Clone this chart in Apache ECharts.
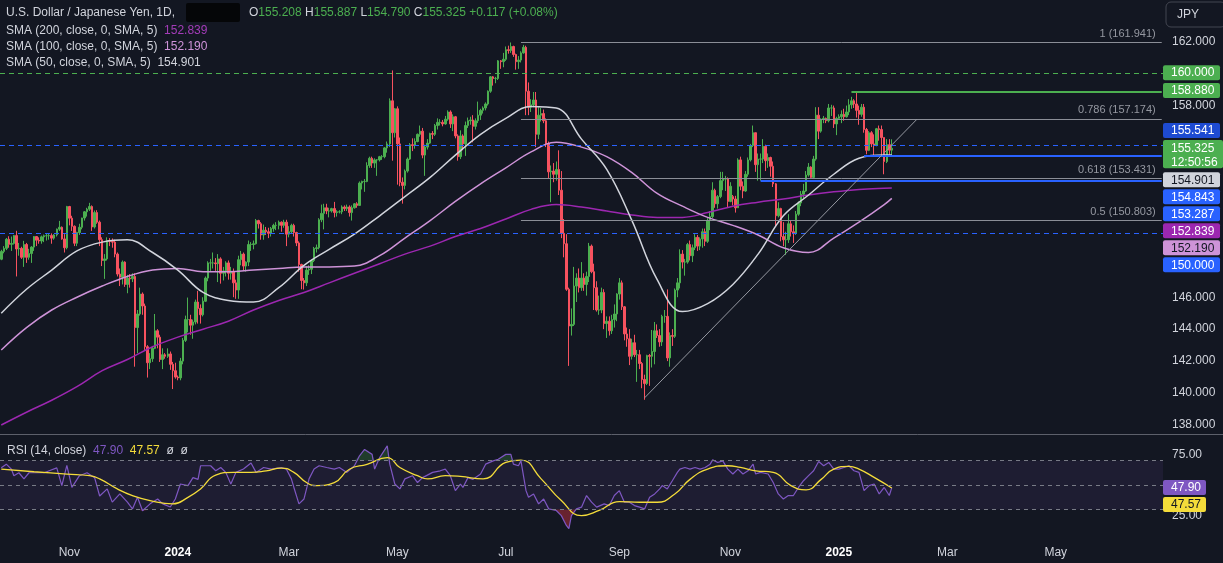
<!DOCTYPE html>
<html><head><meta charset="utf-8">
<script src="https://cdn.jsdelivr.net/npm/echarts@6/dist/echarts.min.js"></script>
<style>html,body{margin:0;padding:0;background:#131722;}#c{width:1223px;height:563px;}</style>
</head><body><div id="c"></div>
<script>
// ---------------- DATA ----------------
const firstBarDate = '2023-09-25';
const barCount = 461; // trading days incl. empty future space
const timeTicks = [['2023-11-01','Nov'],['2024-01-01','2024'],['2024-03-01','Mar'],['2024-05-01','May'],['2024-07-01','Jul'],
  ['2024-09-02','Sep'],['2024-11-01','Nov'],['2025-01-01','2025'],['2025-03-03','Mar'],['2025-05-01','May']];
const priceTicks = [138,140,142,144,146,158,162];
const rsiTicks = [25,75];

// daily [open, high, low, close]
const ohlc = [
// 2023-09
[148.38,148.97,148.32,148.87],[148.87,149.20,148.75,149.06],[149.06,149.71,148.95,149.63],[149.63,149.82,149.10,149.31],[149.31,149.80,148.90,149.37],
// 2023-10
[149.37,149.90,149.30,149.86],[149.86,150.16,147.30,149.02],[149.02,149.40,148.60,149.06],[149.06,149.16,148.40,148.50],[148.50,149.53,147.90,149.30],
[149.30,149.40,148.15,148.50],[148.50,149.03,148.35,148.74],[148.74,149.20,148.15,149.14],[149.14,149.83,148.90,149.80],[149.80,149.83,149.20,149.57],
[149.57,149.75,149.35,149.52],[149.52,149.86,149.35,149.78],[149.78,149.92,149.45,149.85],[149.85,149.99,149.55,149.85],[149.85,150.00,149.60,149.86],
[149.86,150.00,149.35,149.70],[149.70,149.95,149.60,149.90],[149.90,150.30,149.80,150.26],[150.26,150.78,150.15,150.38],[150.38,150.43,149.60,149.65],
[149.65,149.95,148.80,149.10],[149.10,151.72,149.00,151.68],
// 2023-11
[151.68,151.72,150.50,150.95],[150.95,151.10,150.15,150.44],[150.44,150.50,149.20,149.38],
[149.38,150.10,149.20,150.05],[150.05,150.60,149.90,150.38],[150.38,150.98,150.25,150.96],[150.96,151.40,150.80,151.35],[151.35,151.60,151.05,151.51],
[151.51,151.91,151.40,151.68],[151.68,151.75,150.15,150.40],[150.40,151.43,150.30,151.30],[151.30,151.45,150.60,150.70],[150.70,150.80,149.20,149.60],
[149.60,149.75,147.95,148.30],[148.30,148.70,147.15,148.40],[148.40,149.75,148.30,149.55],[149.55,149.70,149.20,149.50],[149.50,149.68,149.10,149.45],
[149.45,149.60,148.50,148.70],[148.70,148.80,147.30,147.45],[147.45,147.80,146.70,147.25],[147.25,148.30,146.80,148.20],
// 2023-12
[148.20,148.25,146.65,146.80],
[146.80,147.40,146.25,147.20],[147.20,147.45,146.60,147.15],[147.15,147.50,146.95,147.30],[147.30,147.50,141.65,144.10],[144.10,145.20,142.50,144.95],
[144.95,146.60,144.85,146.20],[146.20,146.30,144.90,145.45],[145.45,145.60,142.70,142.90],[142.90,143.00,140.97,141.90],[141.90,142.50,141.50,142.15],
[142.15,142.95,141.95,142.80],[142.80,144.95,142.75,143.90],[143.90,144.00,142.80,143.50],[143.50,143.65,141.95,142.10],[142.10,142.80,141.50,142.40],
[142.40,142.50,142.15,142.30],[142.30,142.80,142.20,142.45],[142.45,142.60,141.45,141.80],[141.80,141.95,140.25,141.40],[141.40,141.90,140.90,141.00],
// 2024-01
[141.00,141.10,140.80,140.95],[140.95,142.20,140.80,142.00],[142.00,143.45,141.80,143.30],[143.30,144.85,143.20,144.60],[144.60,145.98,143.80,144.60],
[144.60,144.90,143.65,144.25],[144.25,144.60,143.40,144.45],[144.45,145.85,144.30,145.70],[145.70,146.40,144.35,145.30],[145.30,145.55,144.35,144.90],
[144.90,146.00,144.80,145.75],[145.75,147.30,145.70,147.20],[147.20,148.25,147.00,148.15],[148.15,148.40,147.65,148.15],[148.15,148.80,147.80,148.15],
[148.15,148.45,147.65,148.10],[148.10,148.70,146.95,148.40],[148.40,148.50,146.85,147.50],[147.50,147.90,147.05,147.65],[147.65,148.25,147.30,148.15],
[148.15,148.30,147.10,147.50],[147.50,147.90,147.10,147.60],[147.60,147.80,146.00,146.90],
// 2024-02
[146.90,147.10,145.90,146.45],[146.45,148.60,145.90,148.35],
[148.35,148.90,148.00,148.70],[148.70,148.80,147.65,147.95],[147.95,148.25,147.60,148.20],[148.20,149.55,147.95,149.30],[149.30,149.45,148.90,149.30],
[149.30,149.55,149.00,149.35],[149.35,150.90,149.30,150.80],[150.80,150.85,150.30,150.60],[150.60,150.70,149.60,149.90],[149.90,150.55,149.60,150.20],
[150.20,150.40,149.90,150.10],[150.10,150.35,149.70,150.00],[150.00,150.40,149.80,150.30],[150.30,150.60,150.10,150.50],[150.50,150.70,150.20,150.50],
[150.50,150.80,150.25,150.70],[150.70,150.75,150.10,150.50],[150.50,150.85,150.35,150.70],[150.70,150.85,149.20,149.95],
// 2024-03
[149.95,150.45,149.75,150.10],
[150.10,150.60,150.00,150.50],[150.50,150.60,149.80,150.05],[150.05,150.10,149.20,149.40],[149.40,149.50,147.60,148.05],[148.05,148.10,146.50,147.05],
[147.05,147.20,146.48,146.90],[146.90,147.95,146.70,147.70],[147.70,148.00,147.40,147.75],[147.75,148.35,147.45,148.30],[148.30,149.15,148.20,149.05],
[149.05,149.30,148.80,149.10],[149.10,150.95,149.00,150.85],[150.85,151.80,150.70,151.25],[151.25,151.85,150.25,151.60],[151.60,151.85,151.20,151.40],
[151.40,151.60,151.00,151.40],[151.40,151.60,151.30,151.55],[151.55,151.97,151.00,151.30],[151.30,151.45,151.05,151.35],[151.35,151.45,151.25,151.35],
// 2024-04
[151.35,151.75,151.20,151.65],[151.65,151.75,151.40,151.55],[151.55,151.80,151.40,151.65],[151.65,151.75,151.05,151.30],[151.30,151.75,150.80,151.60],
[151.60,151.90,151.55,151.85],[151.85,151.95,151.60,151.75],[151.75,153.25,151.75,153.15],[153.15,153.30,152.75,153.25],[153.25,153.40,152.60,153.25],
[153.25,154.45,153.20,154.25],[154.25,154.80,154.10,154.70],[154.70,154.80,154.10,154.40],[154.40,154.70,154.10,154.60],[154.60,154.65,153.60,154.60],
[154.60,154.85,154.50,154.80],[154.80,154.90,154.60,154.80],[154.80,155.40,154.70,155.35],[155.35,155.75,155.05,155.60],[155.60,158.45,155.40,158.30],
[158.30,160.20,154.55,156.30],[156.30,157.85,156.00,157.80],
// 2024-05
[157.80,157.95,153.05,155.60],[155.60,156.00,152.95,153.20],[153.20,153.50,151.86,153.00],
[153.00,154.00,152.75,153.90],[153.90,154.75,153.80,154.65],[154.65,155.65,154.60,155.55],[155.55,155.95,155.15,155.50],[155.50,155.95,155.30,155.75],
[155.75,156.25,155.70,156.20],[156.20,156.75,156.05,156.40],[156.40,156.60,154.70,154.90],[154.90,155.55,153.60,155.40],[155.40,155.90,155.25,155.65],
[155.65,156.30,155.60,156.25],[156.25,156.40,155.90,156.20],[156.20,156.85,156.10,156.75],[156.75,157.20,156.50,156.95],[156.95,157.15,156.75,156.95],
[156.95,157.10,156.70,156.85],[156.85,157.35,156.80,157.15],[157.15,157.70,157.05,157.60],[157.60,157.70,156.60,156.85],[156.85,157.45,156.40,157.30],
// 2024-06
[157.30,157.35,155.95,156.10],[156.10,156.20,154.55,154.80],[154.80,156.45,154.65,156.10],[156.10,156.20,155.20,155.60],[155.60,157.00,154.85,156.75],
[156.75,157.25,156.60,157.05],[157.05,157.30,156.80,157.10],[157.10,157.40,155.70,156.70],[156.70,157.20,156.50,157.05],[157.05,158.25,156.90,157.40],
[157.40,157.80,157.10,157.70],[157.70,157.95,157.50,157.85],[157.85,158.20,157.70,158.10],[158.10,158.95,158.00,158.90],[158.90,159.85,158.80,159.80],
[159.80,159.85,159.25,159.70],[159.70,159.80,159.40,159.70],[159.70,160.85,159.60,160.80],[160.80,160.85,160.30,160.75],[160.75,161.30,160.40,160.90],
// 2024-07
[160.90,161.70,160.80,161.50],[161.50,161.75,161.25,161.45],[161.45,161.95,161.30,161.70],[161.70,161.75,161.05,161.20],[161.20,161.25,160.25,160.75],
[160.75,161.10,160.30,160.85],[160.85,161.40,160.70,161.30],[161.30,161.80,161.25,161.65],[161.65,161.75,157.40,158.90],[158.90,159.45,157.40,157.90],
[157.90,158.40,157.60,158.05],[158.05,158.85,157.90,158.35],[158.35,158.85,155.40,156.20],[156.20,157.90,155.90,157.40],[157.40,157.85,157.00,157.50],
[157.50,157.75,156.90,157.05],[157.05,157.20,155.40,155.60],[155.60,155.75,153.45,153.85],[153.85,154.25,151.95,153.90],[153.90,154.40,153.20,153.70],
[153.70,154.50,153.30,154.00],[154.00,155.20,152.40,152.70],[152.70,153.90,149.70,150.00],
// 2024-08
[150.00,150.90,148.50,149.35],[149.35,149.95,146.40,146.50],
[146.50,146.60,141.70,144.20],[144.20,145.30,143.60,144.30],[144.30,147.90,144.20,146.70],[146.70,147.50,145.70,147.20],[147.20,147.80,146.30,146.60],
[146.60,148.20,146.40,147.20],[147.20,147.50,146.40,146.80],[146.80,147.60,146.10,147.30],[147.30,149.40,146.95,149.20],[149.20,149.30,147.50,147.60],
[147.60,148.10,145.20,146.60],[146.60,147.00,145.10,145.20],[145.20,146.10,144.90,145.20],[145.20,146.60,145.00,146.30],[146.30,146.50,144.00,144.35],
[144.35,144.80,143.45,144.50],[144.50,144.80,143.60,143.90],[143.90,144.90,143.70,144.60],[144.60,145.55,144.10,144.95],[144.95,146.25,144.50,146.20],
// 2024-09
[146.20,147.20,145.85,146.90],[146.90,147.05,145.20,145.40],[145.40,145.45,143.30,143.70],[143.70,144.10,142.90,143.40],[143.40,144.00,141.75,142.30],
[142.30,143.40,142.10,143.15],[143.15,143.65,142.25,142.40],[142.40,142.70,140.70,142.40],[142.40,142.70,141.50,141.85],[141.85,141.95,140.30,140.85],
[140.85,141.15,139.58,140.60],[140.60,142.40,140.50,142.35],[142.35,142.45,140.45,142.30],[142.30,143.95,141.60,142.60],[142.60,144.45,141.80,143.90],
[143.90,144.30,143.45,143.60],[143.60,144.00,142.90,143.20],[143.20,144.90,142.95,144.80],[144.80,145.20,144.40,144.80],[144.80,146.49,142.00,142.20],
[142.20,143.80,141.65,143.60],
// 2024-10
[143.60,144.00,142.95,143.55],[143.55,146.55,143.45,146.45],[146.45,147.20,146.00,146.90],[146.90,149.00,146.55,148.70],
[148.70,148.95,147.80,148.20],[148.20,148.40,147.35,148.20],[148.20,149.40,148.10,149.30],[149.30,149.55,148.30,148.60],[148.60,149.30,148.20,149.10],
[149.10,149.95,148.95,149.75],[149.75,149.90,148.90,149.20],[149.20,149.75,148.95,149.65],[149.65,150.30,149.10,150.10],[150.10,150.30,149.20,149.50],
[149.50,150.95,149.40,150.80],[150.80,151.40,150.20,151.05],[151.05,153.20,150.95,152.70],[152.70,152.80,151.60,151.85],[151.85,152.40,151.55,152.30],
[152.30,153.85,152.20,153.30],[153.30,153.85,152.70,153.40],[153.40,153.60,152.65,153.40],[153.40,153.50,151.65,152.00],
// 2024-11
[152.00,153.20,151.95,152.95],
[152.30,152.40,151.75,152.15],[152.15,152.35,151.30,151.60],[151.60,154.70,151.60,154.60],[154.60,154.80,152.70,152.95],[152.95,153.25,152.20,152.65],
[152.65,153.90,152.60,153.70],[153.70,154.75,153.55,154.60],[154.60,155.60,154.50,155.50],[155.50,156.75,155.40,156.30],[156.30,156.30,153.85,154.30],
[154.30,155.00,153.30,154.65],[154.65,155.00,153.30,154.65],[154.65,155.90,154.40,155.45],[155.45,155.55,153.90,154.55],[154.55,155.00,154.10,154.75],
[154.75,154.80,153.55,154.20],[154.20,154.50,152.90,153.10],[153.10,153.15,150.45,151.10],[151.10,151.95,151.00,151.55],[151.55,151.60,149.50,149.80],
// 2024-12
[149.80,150.70,149.20,149.60],[149.60,150.10,148.65,149.60],[149.60,151.20,149.40,150.60],[150.60,150.80,149.80,150.10],[150.10,150.50,149.40,150.00],
[150.00,151.40,149.90,151.20],[151.20,152.00,151.10,151.90],[151.90,152.65,151.70,152.45],[152.45,153.10,152.20,152.65],[152.65,153.90,152.60,153.65],
[153.65,154.40,153.55,154.15],[154.15,154.20,153.40,153.50],[153.50,154.85,153.40,154.65],[154.65,157.90,154.55,157.40],[157.40,157.90,155.90,156.40],
[156.40,157.20,156.30,157.15],[157.15,157.35,156.90,157.20],[157.20,157.25,156.90,157.05],[157.05,158.10,156.95,157.85],[157.85,158.05,157.35,157.85],
[157.85,158.00,156.60,156.85],[156.85,157.30,156.15,157.20],
// 2025-01
[157.20,157.45,157.10,157.30],[157.30,157.70,156.90,157.45],[157.45,157.80,157.05,157.30],
[157.30,158.00,157.25,157.60],[157.60,158.40,157.40,158.05],[158.05,158.55,157.80,158.30],[158.30,158.40,157.85,158.10],[158.10,158.88,157.25,157.70],
[157.70,158.00,156.80,157.45],[157.45,158.10,157.30,157.90],[157.90,158.10,156.30,156.50],[156.50,156.60,154.95,155.20],[155.20,156.40,155.15,156.30],
[156.30,156.40,155.40,155.60],[155.60,156.20,154.85,155.50],[155.50,156.60,155.45,156.55],[156.55,156.75,155.80,156.50],[156.50,156.75,154.80,156.00],
[156.00,156.00,153.70,154.50],[154.50,155.90,154.40,155.55],[155.55,155.90,154.90,155.208],[155.208,155.887,154.790,155.325]
];

const maBars  = [0,10,20,30,40,50,60,70,80,90,100,110,120,130,140,150,160,170,180,190,200,210,220,230,240,250,260,270,280,290,300,310,320,330,340,350,353];
const sma50  = [145.0,146.5,147.7,148.9,149.45,149.6,148.8,147.7,146.3,145.8,145.7,146.6,148.0,149.0,149.95,151.1,152.3,153.5,154.9,156.2,157.2,157.95,157.85,155.9,154.0,150.8,147.1,145.1,145.6,146.8,148.7,151.1,152.4,153.7,154.7,154.9,154.901];
const sma100 = [142.7,144.1,145.2,146.0,146.7,147.3,147.7,147.8,147.6,147.6,147.7,147.8,147.9,147.9,147.95,148.6,149.7,150.8,152.0,153.1,154.1,155.1,155.7,155.4,154.8,153.8,152.5,151.7,151.0,150.5,149.9,149.1,148.8,149.7,150.7,151.8,152.19];
const sma200 = [138.0,138.8,139.55,140.4,141.4,142.1,142.9,143.5,144.0,144.5,145.2,145.8,146.3,146.9,147.5,148.1,148.7,149.2,149.8,150.3,150.9,151.5,151.8,151.65,151.4,151.15,151.0,151.0,151.3,151.7,151.95,152.15,152.4,152.6,152.75,152.83,152.839];

// RSI(14) and its MA, read as [bar, value]
const rsi = [[0,64],[2,67],[4,63],[5,57.6],[7,60],[9,55],[11,60],[13,60],[17,60],[19,61.6],[22,64],[24,49.5],[26,66],[28,48],[31,57.6],[34,60],[37,56],[39,41],[42,46.8],[44,36],[47,42.7],[50,36],[52,30.5],[54,40],[56,29],[59,34.6],[62,38.6],[64,34.6],[67,32],[69,38.6],[71,50.8],[74,49.5],[76,56],[78,54.6],[79,65.7],[83,65.7],[85,61.6],[87,64.3],[89,60.3],[91,50.8],[93,60.3],[96,63],[99,68],[101,60.3],[104,64.3],[107,63],[111,64.3],[113,63],[115,55],[116,48],[118,34.6],[120,38.6],[122,55],[124,63],[126,65.7],[129,64.3],[132,63],[134,64.3],[137,60.3],[140,65.7],[142,73.8],[144,79],[147,75],[148,63],[150,72.4],[153,81.9],[154,67],[156,50.8],[158,46.8],[160,55],[163,57.6],[165,52],[167,56],[171,60.3],
[174,61.6],[176,62.9],[178,57.6],[180,45.4],[182,50.8],[183,48],[185,56],[187,54.6],[190,58.9],[192,67],[195,69.7],[197,71],[200,75],[202,75],[203,67],[205,65.7],[206,69.7],[208,45.4],[209,40],[211,42.7],[213,34.6],[215,38.6],[217,30.5],[220,29.2],[222,25],[224,17],[225,14.3],[226,25],[228,30.5],[230,31.9],[232,41.4],[234,36],[236,31.9],[239,34.6],[241,33.2],[243,41.4],[245,45.4],[247,36],[249,36],[251,33.2],[253,31.9],[255,30.5],[257,40],[259,42.7],[261,46.8],[262,49.5],[264,46.8],[266,53.5],[268,60.3],[269,63],[271,64.3],[273,63],[275,64.3],[277,63],[279,64.3],[281,67],[282,70.5],[284,68.4],[286,69.7],[288,63],[290,59],[292,63],[294,59],[296,61.6],[298,67],[299,59],[301,60.3],[304,59],[306,52],[308,42.7],[310,38.6],[312,41.4],[314,41.4],[316,48],[318,53.5],[320,57.6],[322,61.6],[324,69.2],[326,65.7],[328,68.4],[330,63],[332,63],[334,64.3],[336,65.7],[338,61.6],[340,60.3],[342,45.4],[344,49.5],[346,50.8],[348,42.7],[350,48],[352,41.4],[353,47.9]];
const rsiMa = [[0,63],[13,60.8],[26,58.9],[35,57.6],[39,55],[46,46.8],[52,41.4],[59,37.3],[68,34.6],[74,39.9],[79,46.8],[85,58.1],[92,60.3],[99,60.3],[105,61.6],[111,63.8],[116,60.3],[121,52],[125,49.5],[132,52],[138,62.9],[145,66.9],[153,72.4],[158,64.3],[165,57.6],[169,55],[176,57.6],[182,57],[191,55],[200,68.4],[206,70.3],[214,55],[222,37.3],[230,25],[237,29.2],[245,36.5],[253,35.9],[260,35.9],[267,42.7],[273,54.6],[280,63],[288,65.7],[293,64.3],[299,61.6],[306,60.3],[313,49.5],[319,46],[325,54.6],[330,63],[336,65.2],[340,63],[346,56.2],[353,47.57]];

// drawings
const fibLevels = [['1',161.941],['0.786',157.174],['0.618',153.431],['0.5',150.803]];
const fibFromBar = 206;
const dashedLevels = [160.000, 155.541, 150.000];
const rayLevels = [[158.880, 337], [154.843, 342], [153.287, 301]]; // [price, start bar]
const trendPts = [[255, 139.70], [363, 157.15]];
const lastPrice = 155.325, countdown = '12:50:56';
const tagValues = [160.000, 158.880, 155.541, 154.901, 154.843, 153.287, 152.839, 152.190, 150.000];
const rsiLast = 47.90, rsiMaLast = 47.57;

// ---------------- STYLE ----------------
const tagColors = [['#4caf50','#ffffff'],['#4caf50','#ffffff'],['#1e4bd2','#ffffff'],['#d1d4dc','#131722'],['#2962ff','#ffffff'],
  ['#2962ff','#ffffff'],['#9c27b0','#ffffff'],['#ce93d8','#131722'],['#2962ff','#ffffff']];
const FONT = 'Liberation Sans, Arial, sans-serif';
const UP = '#4caf50', DOWN = '#f7525f', TXT = '#d1d4dc';

// ---------------- BUILD ----------------
const cats = [];
(function(){ const p = firstBarDate.split('-').map(Number); const d = new Date(Date.UTC(p[0], p[1]-1, p[2]));
  while (cats.length < barCount) { const w = d.getUTCDay(); if (w !== 0 && w !== 6) cats.push(d.toISOString().slice(0,10)); d.setUTCDate(d.getUTCDate()+1); } })();
const tickMap = {}; timeTicks.forEach(t => tickMap[t[0]] = t[1]);
const lastBar = ohlc.length - 1;
const maSeries = arr => maBars.map((b,i) => [b, arr[i]]);

const markLines = [];
dashedLevels.forEach((v,i) => markLines.push({yAxis: v, lineStyle: {color: i === 0 ? '#4caf50' : '#2962ff', type: [5,4], width: 1}, label: {show: false}}));
fibLevels.forEach(f => markLines.push([
  {coord: [fibFromBar, f[1]], lineStyle: {color: '#8b8e97', type: 'solid', width: 1},
   label: {show: true, position: 'insideEndTop', formatter: f[0] + ' (' + f[1].toFixed(3) + ')', color: '#9598a1', fontSize: 11, fontFamily: FONT, distance: [6, 3]}},
  {coord: [barCount - 1, f[1]]}]));
rayLevels.forEach((r,i) => markLines.push([
  {coord: [r[1], r[0]], lineStyle: {color: i === 0 ? '#4caf50' : '#2962ff', type: 'solid', width: 2}, label: {show: false}},
  {coord: [barCount - 1, r[0]]}]));
markLines.push([{coord: trendPts[0], lineStyle: {color: '#9598a1', type: 'solid', width: 1}, label: {show: false}}, {coord: trendPts[1]}]);

const chart = echarts.init(document.getElementById('c'), null, {renderer: 'canvas'});
const option = {
  backgroundColor: '#131722',
  animation: false,
  textStyle: {fontFamily: FONT},
  grid: [{left: 0, right: 60, top: 0, height: 434}, {left: 0, right: 60, top: 436, height: 101}],
  xAxis: [
    {type: 'category', gridIndex: 0, data: cats, boundaryGap: true, axisLine: {show: false}, axisTick: {show: false}, axisLabel: {show: false}, splitLine: {show: false}},
    {type: 'category', gridIndex: 1, data: cats, boundaryGap: true, axisLine: {show: false}, axisTick: {show: false}, splitLine: {show: false},
     axisLabel: {interval: (i, v) => tickMap[v] !== undefined, formatter: v => { const t = tickMap[v] || ''; return /^\d{4}$/.test(t) ? '{y|' + t + '}' : t; },
       color: TXT, fontSize: 12, margin: 10, fontFamily: FONT, rich: {y: {color: '#ffffff', fontWeight: 'bold', fontSize: 12, fontFamily: FONT}}}}
  ],
  yAxis: [
    {type: 'value', gridIndex: 0, position: 'right', min: 137.436, max: 164.611, scale: true, axisLine: {show: false}, axisTick: {show: false}, splitLine: {show: false},
     axisLabel: {customValues: priceTicks, formatter: v => v.toFixed(3), color: TXT, fontSize: 12, margin: 9, fontFamily: FONT}},
    {type: 'value', gridIndex: 1, position: 'right', min: 7.55, max: 90.0, axisLine: {show: false}, axisTick: {show: false}, splitLine: {show: false},
     axisLabel: {customValues: rsiTicks, formatter: v => v.toFixed(2), color: TXT, fontSize: 12, margin: 9, fontFamily: FONT}}
  ],
  series: [
    {type: 'candlestick', xAxisIndex: 0, yAxisIndex: 0, barWidth: 2,
     data: ohlc.map(r => [r[0], r[3], r[2], r[1]]),
     itemStyle: {color: UP, color0: DOWN, borderColor: UP, borderColor0: DOWN, borderWidth: 1},
     markLine: {silent: true, symbol: ['none','none'], animation: false, data: markLines}},
    {type: 'line', name: 'SMA200', xAxisIndex: 0, yAxisIndex: 0, data: maSeries(sma200), smooth: 0.4, showSymbol: false, lineStyle: {color: '#9c27b0', width: 1.5}},
    {type: 'line', name: 'SMA100', xAxisIndex: 0, yAxisIndex: 0, data: maSeries(sma100), smooth: 0.4, showSymbol: false, lineStyle: {color: '#ce93d8', width: 1.5}},
    {type: 'line', name: 'SMA50', xAxisIndex: 0, yAxisIndex: 0, data: maSeries(sma50), smooth: 0.4, showSymbol: false, lineStyle: {color: '#d1d4dc', width: 1.5}},
    {type: 'line', name: 'ob', xAxisIndex: 1, yAxisIndex: 1, data: rsi.map(p => [p[0], Math.max(p[1], 70)]), showSymbol: false, lineStyle: {width: 0},
     areaStyle: {origin: 70, color: 'rgba(76,175,80,0.35)'}},
    {type: 'line', name: 'os', xAxisIndex: 1, yAxisIndex: 1, data: rsi.map(p => [p[0], Math.min(p[1], 30)]), showSymbol: false, lineStyle: {width: 0},
     areaStyle: {origin: 30, color: 'rgba(242,54,69,0.55)'}},
    {type: 'line', name: 'RSI', xAxisIndex: 1, yAxisIndex: 1, data: rsi, showSymbol: false, lineStyle: {color: '#7e57c2', width: 1.2},
     markArea: {silent: true, itemStyle: {color: 'rgba(126,87,194,0.10)'}, data: [[{yAxis: 70}, {yAxis: 30}]]},
     markLine: {silent: true, symbol: ['none','none'], label: {show: false}, lineStyle: {color: '#787b86', type: [4,4], width: 1}, data: [{yAxis: 70}, {yAxis: 50}, {yAxis: 30}]}},
    {type: 'line', name: 'RSI MA', xAxisIndex: 1, yAxisIndex: 1, data: rsiMa, smooth: 0.5, showSymbol: false, lineStyle: {color: '#f4dc3a', width: 1.3}}
  ]
};
chart.setOption(option);

// ---------- overlay: legends, price tags ----------
const g = [];
const txt = (x, y, text, rich, extra) => g.push(Object.assign({type: 'text', x: x, y: y, silent: true,
  style: {text: text, rich: rich, fill: TXT, font: '12px ' + FONT, verticalAlign: 'middle', align: 'left'}}, extra || {}));
const r12 = c => ({fill: c, font: '12px ' + FONT});
txt(6, 13, 'U.S. Dollar / Japanese Yen, 1D,', null);
g.push({type: 'rect', shape: {x: 186, y: 3, width: 54, height: 19, r: 2}, style: {fill: '#050608'}, silent: true});
const o = ohlc[lastBar];
const chg = o[3] - ohlc[lastBar - 1][3];
txt(249, 13, '{w|O}{v|' + o[0].toFixed(3) + '} {w|H}{v|' + o[1].toFixed(3) + '} {w|L}{v|' + o[2].toFixed(3) + '} {w|C}{v|' + o[3].toFixed(3) + '} {v|+' + chg.toFixed(3) + ' (+' + (chg / ohlc[lastBar-1][3] * 100).toFixed(2) + '%)}',
  {w: r12(TXT), v: r12(UP)});
txt(6, 30.7, 'SMA (200, close, 0, SMA, 5)  {a|' + sma200[sma200.length-1].toFixed(3) + '}', {a: r12('#a33cb8')});
txt(6, 46.5, 'SMA (100, close, 0, SMA, 5)  {a|' + sma100[sma100.length-1].toFixed(3) + '}', {a: r12('#ce93d8')});
txt(6, 62.5, 'SMA (50, close, 0, SMA, 5)  {a|' + sma50[sma50.length-1].toFixed(3) + '}', {a: r12(TXT)});
txt(7, 450.5, 'RSI (14, close)  {a|' + rsiLast.toFixed(2) + '}  {b|' + rsiMaLast.toFixed(2) + '}  ø  ø', {a: r12('#7e57c2'), b: r12('#f4dc3a')});
// JPY button
g.push({type: 'rect', shape: {x: 1166, y: 2, width: 60, height: 25, r: 5}, style: {fill: '#131722', stroke: '#434651', lineWidth: 1}, silent: true});
txt(1177, 14.5, 'JPY', null);
// pane separator
g.push({type: 'line', shape: {x1: 0, y1: 434.5, x2: 1223, y2: 434.5}, style: {stroke: '#5d606b', lineWidth: 1}, silent: true});

const py = v => chart.convertToPixel({yAxisIndex: 0}, v);
const ry = v => chart.convertToPixel({yAxisIndex: 1}, v);
const H = 15, GAP = 2;
const tag = (cy, label, bg, fg, w) => {
  g.push({type: 'rect', shape: {x: 1163, y: cy - H/2, width: w, height: H, r: 2}, style: {fill: bg}, silent: true, z: 10});
  g.push({type: 'text', x: 1171, y: cy + 0.5, silent: true, z: 11, style: {text: label, fill: fg, font: '12px ' + FONT, verticalAlign: 'middle', align: 'left'}});
};
// current price block
const ly = py(lastPrice);
const curTop = ly - 8.3, curBot = ly + 20;
g.push({type: 'rect', shape: {x: 1163, y: curTop, width: 60, height: curBot - curTop, r: 2}, style: {fill: UP}, silent: true, z: 10});
g.push({type: 'text', x: 1171, y: ly, silent: true, z: 11, style: {text: lastPrice.toFixed(3), fill: '#ffffff', font: '12px ' + FONT, verticalAlign: 'middle', align: 'left'}});
g.push({type: 'text', x: 1171, y: ly + 14, silent: true, z: 11, style: {text: countdown, fill: '#ffffff', font: '12px ' + FONT, verticalAlign: 'middle', align: 'left'}});
const tags = tagValues.map((v, i) => ({v: v, c: tagColors[i]}));
let lim = curTop - GAP;
tags.filter(t => t.v > lastPrice).sort((a, b) => a.v - b.v).forEach(t => {
  const cy = Math.min(py(t.v) - 1, lim - H/2); tag(cy, t.v.toFixed(3), t.c[0], t.c[1], 57); lim = cy - H/2 - GAP; });
lim = curBot + 4;
tags.filter(t => t.v < lastPrice).sort((a, b) => b.v - a.v).forEach(t => {
  const cy = Math.max(py(t.v) - 1, lim + H/2); tag(cy, t.v.toFixed(3), t.c[0], t.c[1], 57); lim = cy + H/2 + GAP; });
// RSI tags
const r1 = ry(rsiLast);
tag(r1, rsiLast.toFixed(2), '#7e57c2', '#ffffff', 43);
const r2 = Math.max(ry(rsiMaLast), r1 + H + GAP);
tag(r2, rsiMaLast.toFixed(2), '#f4dc3a', '#131722', 43);

chart.setOption({graphic: g});
</script></body></html>
